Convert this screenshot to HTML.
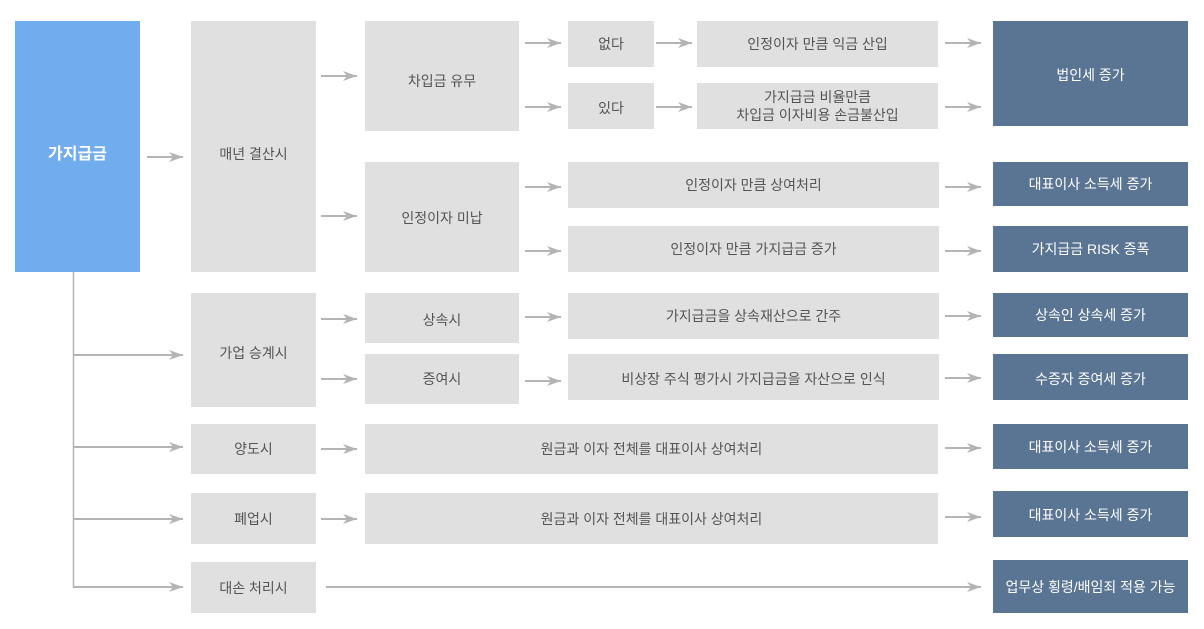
<!DOCTYPE html><html><head><meta charset="utf-8"><style>
body{margin:0;width:1204px;height:629px;background:#fff;position:relative;overflow:hidden;font-family:"Liberation Sans","Noto Sans CJK KR",sans-serif}
.b{position:absolute;display:flex;align-items:center;justify-content:center;text-align:center;font-size:14px;color:#555;background:#e0e0e0;line-height:18px;box-sizing:border-box}
.d{background:#5a7494;color:#fff}
svg{position:absolute;left:0;top:0}
</style></head><body>
<div class="b" style="left:15px;top:21px;width:125px;height:251px;background:#70acee;color:#fff;font-weight:bold;font-size:16px;padding-top:16px">가지급금</div>
<div class="b" style="left:191px;top:21px;width:125px;height:251px;padding-top:14px">매년 결산시</div>
<div class="b" style="left:191px;top:293px;width:125px;height:114px;padding-top:6px">가업 승계시</div>
<div class="b" style="left:191px;top:424px;width:125px;height:50px">양도시</div>
<div class="b" style="left:191px;top:493px;width:125px;height:51px">폐업시</div>
<div class="b" style="left:191px;top:562px;width:125px;height:51px">대손 처리시</div>
<div class="b" style="left:365px;top:21px;width:154px;height:110px;padding-top:10px">차입금 유무</div>
<div class="b" style="left:365px;top:162px;width:154px;height:110px;padding-top:2px">인정이자 미납</div>
<div class="b" style="left:365px;top:293px;width:154px;height:50px;padding-top:4px">상속시</div>
<div class="b" style="left:365px;top:354px;width:154px;height:50px">증여시</div>
<div class="b" style="left:568px;top:21px;width:86px;height:46px">없다</div>
<div class="b" style="left:568px;top:83px;width:86px;height:46px;padding-top:4px">있다</div>
<div class="b" style="left:697px;top:21px;width:241px;height:46px">인정이자 만큼 익금 산입</div>
<div class="b" style="left:697px;top:83px;width:241px;height:46px">가지급금 비율만큼<br>차입금 이자비용 손금불산입</div>
<div class="b" style="left:568px;top:162px;width:371px;height:46px">인정이자 만큼 상여처리</div>
<div class="b" style="left:568px;top:226px;width:371px;height:46px">인정이자 만큼 가지급금 증가</div>
<div class="b" style="left:568px;top:293px;width:371px;height:46px">가지급금을 상속재산으로 간주</div>
<div class="b" style="left:568px;top:354px;width:371px;height:46px;padding-top:4px">비상장 주식 평가시 가지급금을 자산으로 인식</div>
<div class="b" style="left:365px;top:424px;width:573px;height:50px">원금과 이자 전체를 대표이사 상여처리</div>
<div class="b" style="left:365px;top:493px;width:573px;height:51px">원금과 이자 전체를 대표이사 상여처리</div>
<div class="b d" style="left:993px;top:21px;width:195px;height:105px;padding-top:2px">법인세 증가</div>
<div class="b d" style="left:993px;top:162px;width:195px;height:44px">대표이사 소득세 증가</div>
<div class="b d" style="left:993px;top:226px;width:195px;height:46px">가지급금 RISK 증폭</div>
<div class="b d" style="left:993px;top:293px;width:195px;height:44px">상속인 상속세 증가</div>
<div class="b d" style="left:993px;top:354px;width:195px;height:46px;padding-top:4px">수증자 증여세 증가</div>
<div class="b d" style="left:993px;top:424px;width:195px;height:45px">대표이사 소득세 증가</div>
<div class="b d" style="left:993px;top:491px;width:195px;height:46px;padding-top:2px">대표이사 소득세 증가</div>
<div class="b d" style="left:993px;top:560px;width:195px;height:53px">업무상 횡령/배임죄 적용 가능</div>
<svg width="1204" height="629">
<defs><marker id="a" markerWidth="14" markerHeight="10" refX="14" refY="5" orient="auto" markerUnits="userSpaceOnUse"><path d="M0,0 L14,5 L0,10 L4,5 Z" fill="#b4b4b4"/></marker></defs>
<g stroke="#b4b4b4" stroke-width="2" marker-end="url(#a)">
<line x1="147" y1="157" x2="183" y2="157"/>
<line x1="321" y1="76" x2="357" y2="76"/><line x1="321" y1="216" x2="357" y2="216"/>
<line x1="525" y1="43" x2="561" y2="43"/><line x1="525" y1="107" x2="561" y2="107"/>
<line x1="525" y1="187" x2="561" y2="187"/><line x1="525" y1="251" x2="561" y2="251"/>
<line x1="656" y1="43" x2="692" y2="43"/><line x1="656" y1="107" x2="692" y2="107"/>
<line x1="945" y1="43" x2="981" y2="43"/><line x1="945" y1="107" x2="981" y2="107"/>
<line x1="945" y1="187" x2="981" y2="187"/><line x1="945" y1="251" x2="981" y2="251"/>
<line x1="945" y1="316" x2="981" y2="316"/><line x1="945" y1="378" x2="981" y2="378"/>
<line x1="945" y1="448" x2="981" y2="448"/><line x1="945" y1="517" x2="981" y2="517"/>
<line x1="321" y1="319" x2="357" y2="319"/><line x1="321" y1="379" x2="357" y2="379"/>
<line x1="525" y1="317" x2="561" y2="317"/><line x1="525" y1="381" x2="561" y2="381"/>
<line x1="321" y1="449" x2="357" y2="449"/><line x1="321" y1="519" x2="357" y2="519"/>
<line x1="326" y1="587" x2="981" y2="587"/>
<line x1="74" y1="355" x2="183" y2="355"/><line x1="74" y1="447" x2="183" y2="447"/>
<line x1="74" y1="519" x2="183" y2="519"/><line x1="74" y1="587" x2="183" y2="587"/>
</g>
<line x1="73.5" y1="272" x2="73.5" y2="588" stroke="#b4b4b4" stroke-width="1.5"/>
</svg>
</body></html>
